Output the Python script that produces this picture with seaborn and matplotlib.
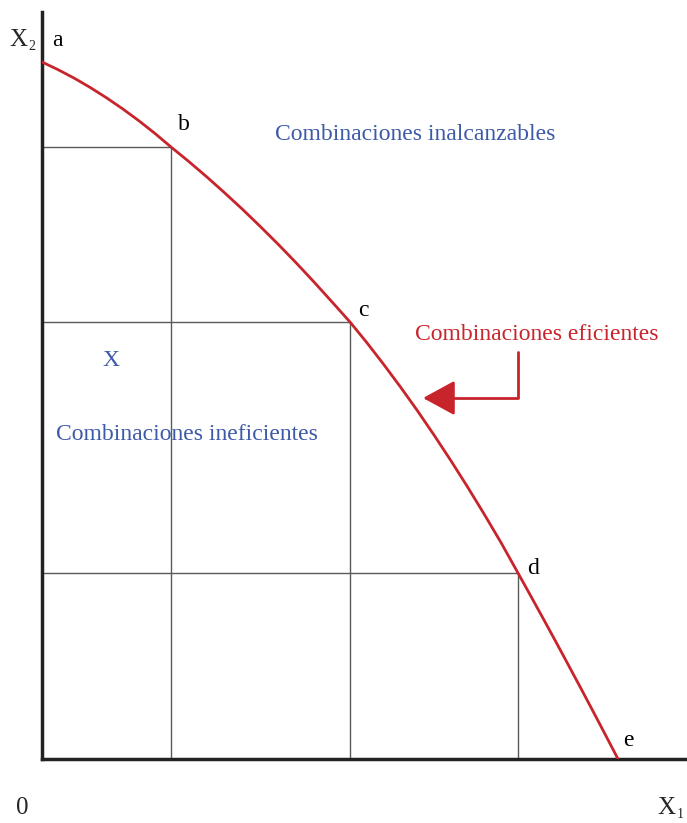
import matplotlib
matplotlib.use("Agg")
import matplotlib.pyplot as plt
import seaborn as sns
import pandas as pd

# frontier (x1, x2 units)
curve_x = [0, 16.1, 32.3, 48.4, 64.5, 80.6, 96.8, 112.9, 129,
           146.9, 164.8, 182.7, 200.6, 218.5, 236.4, 254.3, 272.2, 290.1, 308,
           324.8, 341.6, 358.4, 375.2, 392, 408.8, 425.6, 442.4, 459.2, 476,
           488.5, 501, 513.5, 526, 538.5, 551, 563.5, 576]
curve_y = [697, 689.3, 680.8, 671.4, 661.2, 650.2, 638.3, 625.6, 612,
           597.4, 582.1, 566.1, 549.6, 532.3, 514.5, 496.0, 476.8, 457.0, 437,
           416.4, 394.7, 372.1, 348.6, 324.0, 298.5, 272.0, 244.5, 216.1, 186,
           163.5, 140.8, 117.9, 94.7, 71.4, 47.8, 24.0, 0]

point_labels = ['a', 'b', 'c', 'd', 'e']
point_x = [0, 129, 308, 476, 576]
point_y = [697, 612, 437, 186, 0]

RED = '#c8242c'
BLUE = '#3d5aa8'
FONT = 'Liberation Serif'

sns.set_style("white")
plt.rcParams['font.family'] = [FONT, 'DejaVu Serif']

W, H = 687, 823
fig = plt.figure(figsize=(W / 100, H / 100), dpi=100)
ax = fig.add_axes([42 / W, (H - 759) / H, (W - 42) / W, (759 - 12) / H])
ax.set_xlim(0, 645)
ax.set_ylim(0, 747)

df = pd.DataFrame({'x1': curve_x, 'x2': curve_y})
sns.lineplot(data=df, x='x1', y='x2', sort=False, color=RED, lw=2, ax=ax, zorder=3)

# guide lines for b, c, d
for x, y in zip(point_x[1:4], point_y[1:4]):
    ax.plot([0, x], [y, y], color='#5a5a5a', lw=1, zorder=2)
    ax.plot([x, x], [0, y], color='#5a5a5a', lw=1, zorder=2)

offsets = [(15, 22), (13, 22), (13, 11), (15, 4), (10, 19)]
for lab, x, y, off in zip(point_labels, point_x, point_y, offsets):
    ax.annotate(lab, (x, y), xytext=off, textcoords='offset pixels',
                ha='center', va='center', fontsize=17, color='black')

for s in ['top', 'right']:
    ax.spines[s].set_visible(False)
for s in ['left', 'bottom']:
    ax.spines[s].set_linewidth(2.5)
    ax.spines[s].set_color('#222222')
ax.set_xticks([])
ax.set_yticks([])
ax.set_xlabel('')
ax.set_ylabel('')

# axis names
ax.text(-24, 719, 'X', fontsize=18, ha='center', va='center', clip_on=False)
ax.text(-10, 713, '2', fontsize=10, ha='center', va='center', clip_on=False)
ax.text(-20, -49, '0', fontsize=18, ha='center', va='center', clip_on=False)
ax.text(624, -49, 'X', fontsize=18, ha='center', va='center', clip_on=False)
ax.text(638, -55, '1', fontsize=10, ha='center', va='center', clip_on=False)

ax.text(373, 624, 'Combinaciones inalcanzables', fontsize=17, color=BLUE, ha='center', va='center')
ax.text(69, 399, 'X', fontsize=17, color=BLUE, ha='center', va='center')
ax.text(145, 324, 'Combinaciones ineficientes', fontsize=17, color=BLUE, ha='center', va='center')
ax.text(495, 424, 'Combinaciones eficientes', fontsize=17, color=RED, ha='center', va='center')

ax.annotate('', xy=(381, 361), xytext=(476, 407),
            arrowprops=dict(arrowstyle='-|>,head_length=1.1,head_width=0.6',
                            connectionstyle='angle,angleA=90,angleB=0,rad=0',
                            color=RED, lw=2, mutation_scale=18, shrinkA=0, shrinkB=0))

fig.savefig('out.png', dpi=100)
